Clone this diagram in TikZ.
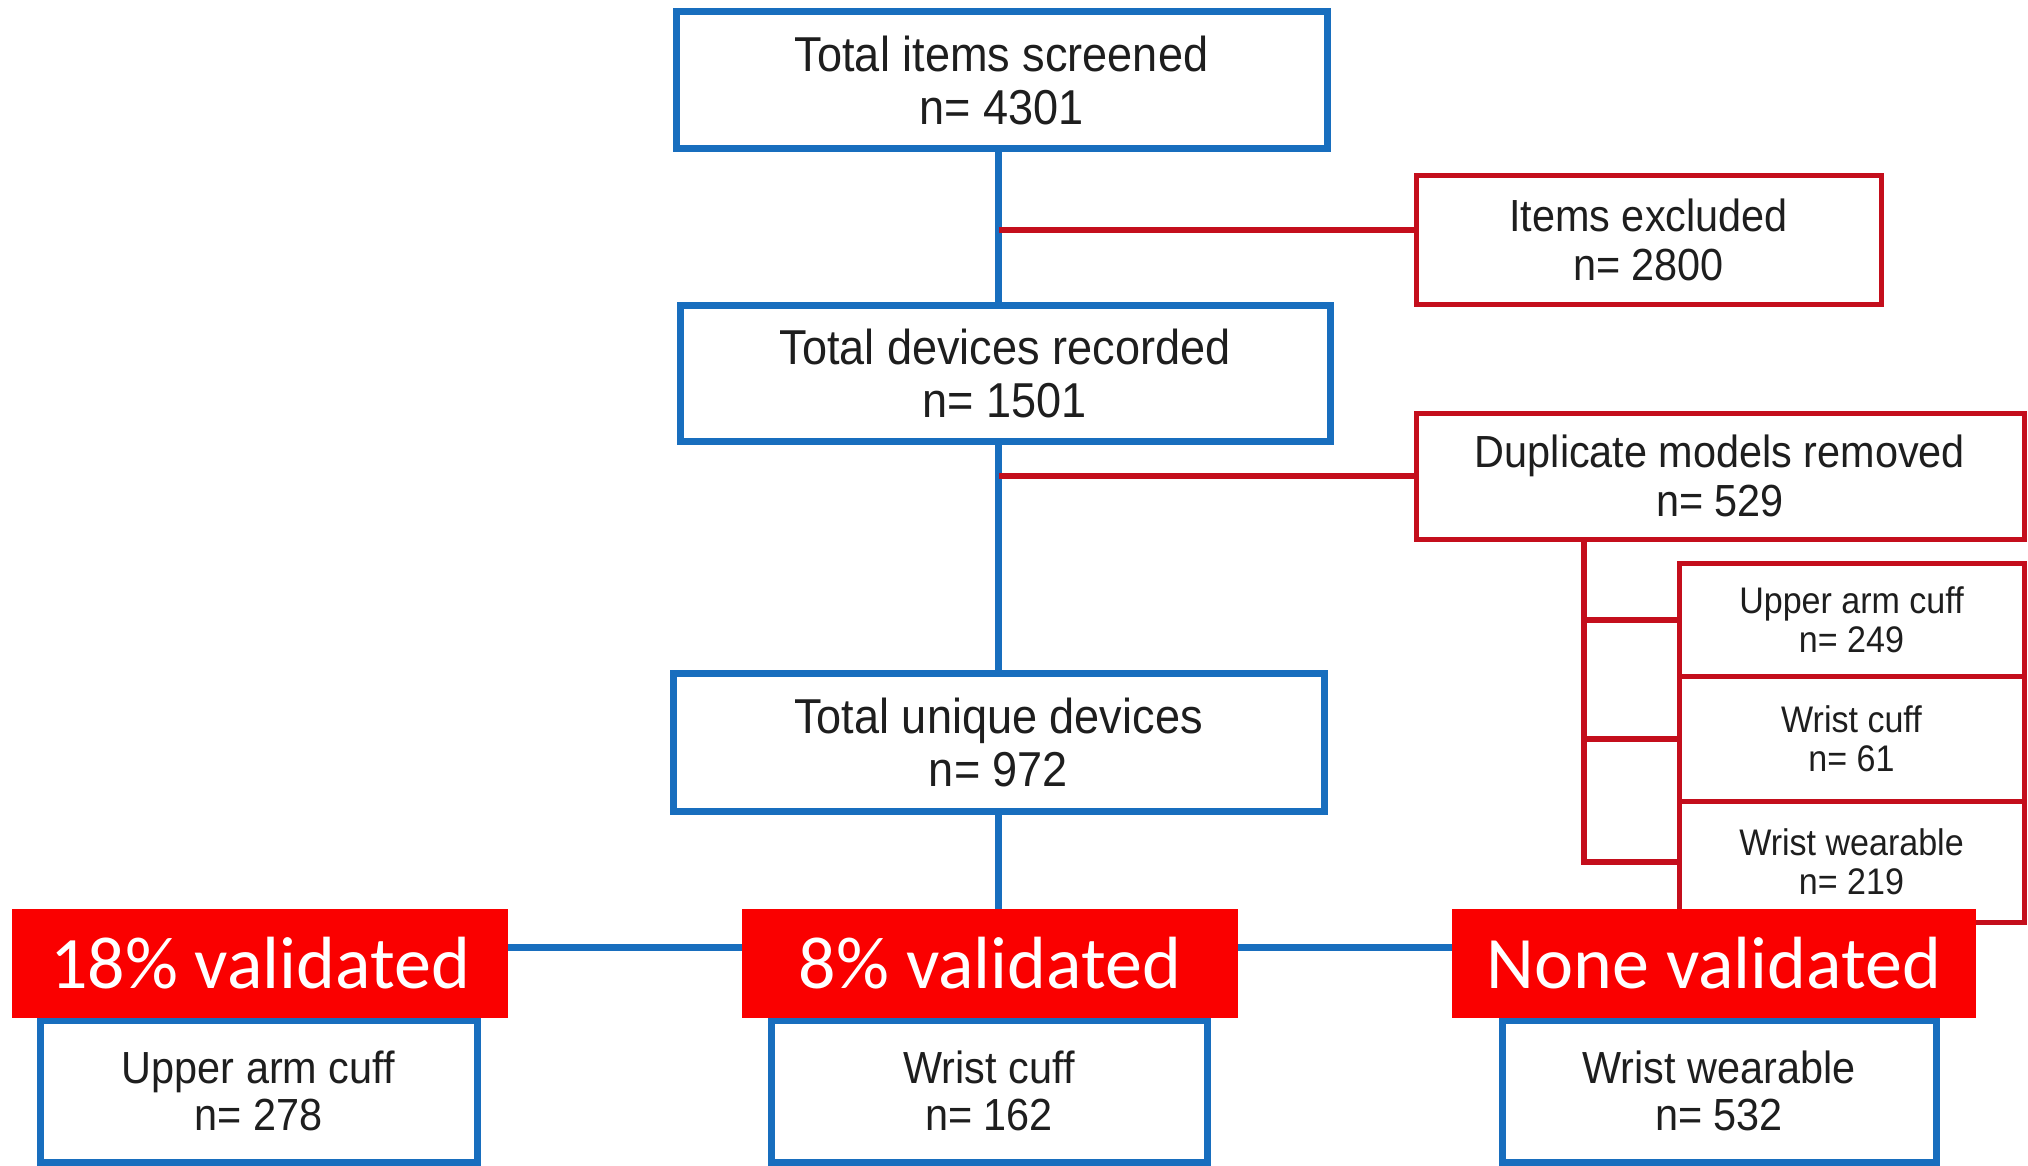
\documentclass[tikz,border=0pt]{standalone}
\usepackage{fontspec}
\setmainfont{Liberation Sans}[FakeStretch=0.92]
\newfontfamily\calib{Carlito}
\definecolor{bblue}{RGB}{24,110,190}
\definecolor{dred}{RGB}{196,14,28}
\definecolor{lred}{RGB}{250,0,0}
\definecolor{txt}{RGB}{30,30,30}
\begin{document}
\begin{tikzpicture}[x=1pt,y=-1pt,
  bbox/.style={draw=bblue,line width=7pt,fill=white,align=center,text=txt,inner sep=0pt,
     font=\fontsize{49}{53}\selectfont},
  rbox/.style={draw=dred,line width=5pt,fill=white,align=center,text=txt,inner sep=0pt,
     font=\fontsize{45}{49}\selectfont},
  sbox/.style={draw=dred,line width=5pt,fill=white,align=center,text=txt,inner sep=0pt,
     minimum width=345pt,font=\fontsize{37}{39}\selectfont},
  lbox/.style={draw=bblue,line width=7pt,fill=white,align=center,text=txt,inner sep=0pt,
     minimum height=142pt,font=\fontsize{45}{47}\selectfont},
  tag/.style={fill=lred,text=white,inner sep=0pt,minimum height=109pt,
     font=\calib\fontsize{74}{80}\selectfont},
  bline/.style={draw=bblue,line width=7pt},
  rline/.style={draw=dred,line width=6pt}]
\useasboundingbox (0,0) rectangle (2028,1166);
% main boxes
\node[bbox,minimum width=651pt,minimum height=137pt] (b1) at (1001.5,80.5) {Total items screened\\n= 4301};
\node[bbox,minimum width=650pt,minimum height=136pt] (b2) at (1005,373) {Total devices recorded\\n= 1501};
\node[bbox,minimum width=651pt,minimum height=138pt] (b3) at (998.5,742) {Total unique devices\\n= 972};
% side boxes
\node[rbox,minimum width=465pt,minimum height=128pt] (excl) at (1648.5,240) {Items excluded\\n= 2800};
\node[rbox,minimum width=608pt,minimum height=126pt] (dup) at (1720,476) {Duplicate models removed\\n= 529};
\node[sbox,minimum height=113pt] (s1) at (1851.5,619.5) {Upper arm cuff\\n= 249};
\node[sbox,minimum height=125pt] (s2) at (1851.5,738.5) {Wrist cuff\\n= 61};
\node[sbox,minimum height=121pt] (s3) at (1851.5,861.5) {Wrist wearable\\n= 219};
% bottom boxes
\node[lbox,minimum width=437pt] (bl) at (258.5,1091) {Upper arm cuff\\n= 278};
\node[lbox,minimum width=436pt] (bm) at (989,1091) {Wrist cuff\\n= 162};
\node[lbox,minimum width=434pt] (br) at (1719,1091) {Wrist wearable\\n= 532};
% connectors
\coordinate (hl) at (258.5,947);
\coordinate (hr) at (1719,947);
\coordinate (sv) at (1584,539);
\begin{scope}[on background layer/.style={}]
\end{scope}
\draw[bline] (b1.south -| b3.south) -- (b3.south |- b2.north);
\draw[bline] (b2.south -| b3.south) -- (b3.north);
\draw[bline] (b3.south) -- (b3.south |- hl);
\draw[bline] (hl) -- (hr);
\draw[bline] (hl) -- (bl.north);
\draw[bline] (bm.north |- hl) -- (bm.north);
\draw[bline] (hr) -- (br.north);
\draw[rline] ([yshift=10pt]excl.west) -- ([yshift=10pt]excl.west -| b3.south);
\draw[rline] (dup.west) -- (dup.west -| b3.south);
\draw[rline] (sv) -- (sv |- s3.west) -- (s3.west);
\draw[rline] (sv |- s1.west) -- (s1.west);
\draw[rline] (sv |- s2.west) -- (s2.west);
% redraw boxes above lines
\node[bbox,minimum width=651pt,minimum height=137pt] at (b1) {Total items screened\\n= 4301};
\node[bbox,minimum width=650pt,minimum height=136pt] at (b2) {Total devices recorded\\n= 1501};
% tags
\node[tag,minimum width=496pt] (t1) at (260,963.5) {18\% validated};
\node[tag,minimum width=496pt] (t2) at (990,963.5) {8\% validated};
\node[tag,minimum width=524pt] (t3) at (1714,963.5) {None validated};
\end{tikzpicture}
\end{document}
